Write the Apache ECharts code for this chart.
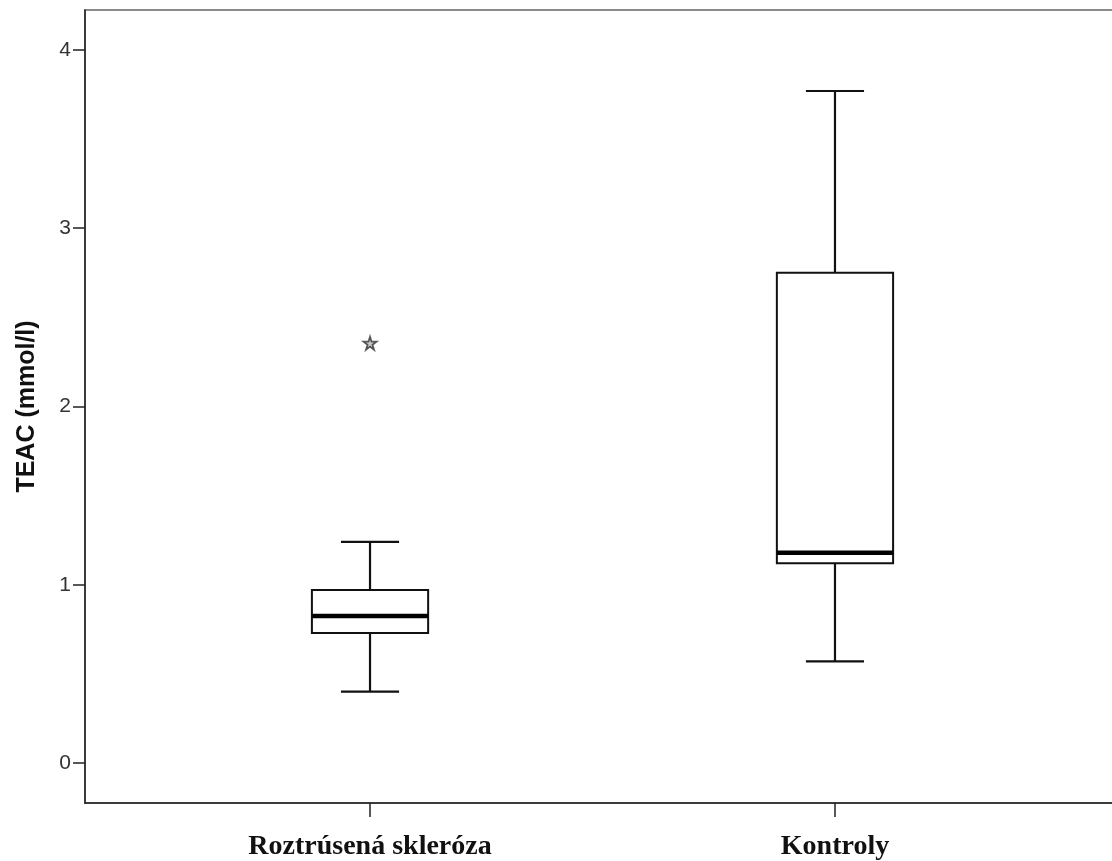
<!DOCTYPE html>
<html>
<head>
<meta charset="utf-8">
<script src="https://cdn.jsdelivr.net/npm/echarts@6/dist/echarts.min.js"></script>
<style>
html,body{margin:0;padding:0;background:#fff;overflow:hidden;}
#chart{width:1112px;height:861px;}
</style>
</head>
<body>
<div id="chart"></div>
<script>
// ---- data ----
const categories = ['Roztrúsená skleróza', 'Kontroly'];
const categoryPos = [1, 2];
// [min whisker, Q1, median, Q3, max whisker]
const boxStats = [
  [0.40, 0.73, 0.825, 0.97, 1.24],
  [0.57, 1.12, 1.18, 2.75, 3.77]
];
const outliers = [[1, 2.355]];
const yTicks = [0, 1, 2, 3, 4];

const boxData = boxStats.map((s, i) => [categoryPos[i]].concat(s));

const chart = echarts.init(document.getElementById('chart'), null, {renderer: 'canvas'});

const starPath = 'path://M50,0 L61.8,35.1 L98.9,35.1 L68.8,57.1 L80.2,92.1 L50,70.4 L19.8,92.1 L31.2,57.1 L1.1,35.1 L38.2,35.1 Z';

const option = {
  backgroundColor: '#fff',
  animation: false,
  grid: {
    left: 85, top: 10, width: 1035, height: 793,
    outerBoundsMode: 'none', containLabel: false,
    show: true, borderColor: '#8a8a8a', borderWidth: 2, backgroundColor: 'transparent'
  },
  xAxis: {
    type: 'value',
    min: 0.387, max: 2.613,
    splitLine: {show: false},
    axisLine: {show: true, onZero: false, lineStyle: {color: '#222', width: 1.5}},
    axisTick: {show: true, customValues: categoryPos, length: 14, lineStyle: {color: '#222', width: 1.5}},
    axisLabel: {
      customValues: categoryPos,
      formatter: v => categories[categoryPos.indexOf(Math.round(v))] || '',
      fontFamily: 'Liberation Serif, Times New Roman, serif',
      fontWeight: 'bold', fontSize: 28, color: '#111', margin: 30
    }
  },
  yAxis: {
    type: 'value',
    min: -0.2244, max: 4.2244,
    name: 'TEAC (mmol/l)',
    nameLocation: 'middle',
    nameGap: 45,
    nameTextStyle: {fontFamily: 'Liberation Sans, Arial, sans-serif', fontWeight: 'bold', fontSize: 25, color: '#111'},
    splitLine: {show: false},
    axisLine: {show: true, onZero: false, lineStyle: {color: '#222', width: 1.5}},
    axisTick: {show: true, customValues: yTicks, length: 12, lineStyle: {color: '#222', width: 1.5}},
    axisLabel: {
      customValues: yTicks,
      fontFamily: 'Liberation Sans, Arial, sans-serif',
      fontSize: 21, color: '#333', margin: 14
    }
  },
  series: [
    {
      type: 'custom',
      data: boxData,
      encode: {x: 0, y: [1, 2, 3, 4, 5]},
      renderItem: function (params, api) {
        const x = api.value(0);
        const lo = api.coord([x, api.value(1)]);
        const q1 = api.coord([x, api.value(2)]);
        const med = api.coord([x, api.value(3)]);
        const q3 = api.coord([x, api.value(4)]);
        const hi = api.coord([x, api.value(5)]);
        const bw = api.size([0.25, 0])[0];
        const cw = bw / 2;
        const cx = lo[0];
        const stroke = {stroke: '#111', lineWidth: 2.2, fill: null};
        return {
          type: 'group',
          children: [
            {type: 'line', shape: {x1: cx, y1: q3[1], x2: cx, y2: hi[1]}, style: stroke},
            {type: 'line', shape: {x1: cx, y1: q1[1], x2: cx, y2: lo[1]}, style: stroke},
            {type: 'line', shape: {x1: cx - cw / 2, y1: hi[1], x2: cx + cw / 2, y2: hi[1]}, style: stroke},
            {type: 'line', shape: {x1: cx - cw / 2, y1: lo[1], x2: cx + cw / 2, y2: lo[1]}, style: stroke},
            {type: 'rect', shape: {x: cx - bw / 2, y: q3[1], width: bw, height: q1[1] - q3[1]},
              style: {stroke: '#111', lineWidth: 2, fill: '#fff'}},
            {type: 'line', shape: {x1: cx - bw / 2, y1: med[1], x2: cx + bw / 2, y2: med[1]},
              style: {stroke: '#000', lineWidth: 4.5}}
          ]
        };
      },
      z: 3
    },
    {
      type: 'scatter',
      data: outliers,
      symbol: starPath,
      symbolSize: 13,
      itemStyle: {color: '#bbb', borderColor: '#333', borderWidth: 1.8},
      z: 4
    }
  ]
};
chart.setOption(option);
</script>
</body>
</html>
